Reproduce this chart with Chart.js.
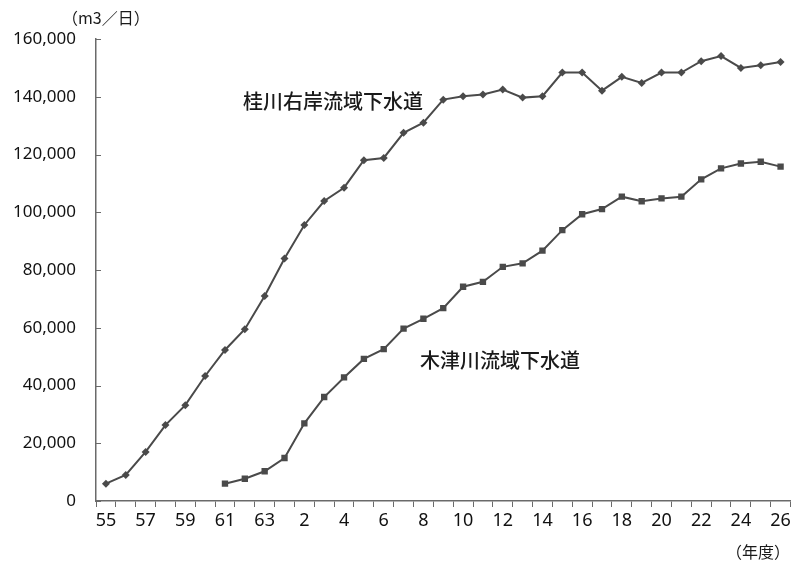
<!DOCTYPE html>
<html>
<head>
<meta charset="utf-8">
<script src="https://cdn.jsdelivr.net/npm/chart.js@4"></script>
<style>
  html, body { margin: 0; padding: 0; background: #ffffff; }
  #wrap { position: relative; width: 795px; height: 563px; }
  canvas { display: block; }
</style>
</head>
<body>
<div id="wrap"><canvas id="c" width="795" height="563"></canvas></div>
<script>
// Fiscal years: Showa 55–63, Heisei 元(1)–26
const categories = ['55','56','57','58','59','60','61','62','63','元',
  '2','3','4','5','6','7','8','9','10','11','12','13','14','15','16','17','18',
  '19','20','21','22','23','24','25','26'];

// 桂川右岸流域下水道 (m3/日)
const katsuraValues = [6000, 9000, 17000, 26300, 33200, 43300, 52300, 59500, 71000, 84000,
  95600, 103900, 108500, 118000, 118800, 127500, 131000, 139000, 140200, 140800, 142500,
  139700, 140200, 148400, 148400, 142100, 146900, 144800, 148400, 148400, 152300, 154100,
  150000, 150900, 152000];

// 木津川流域下水道 (m3/日)
const kizuValues = [null, null, null, null, null, null, 6000, 7700, 10300, 14900,
  26900, 36000, 42800, 49200, 52600, 59700, 63100, 66800, 74200, 75900, 81100,
  82300, 86700, 93800, 99300, 101100, 105400, 103800, 104800, 105400, 111400, 115200,
  116900, 117500, 115800];

const yTicks = [0, 20000, 40000, 60000, 80000, 100000, 120000, 140000, 160000];

const seriesLabels = [
  { text: '桂川右岸流域下水道', x: 243, y: 101 },
  { text: '木津川流域下水道', x: 420, y: 360 }
];
const unitY = '（m3／日）';
const unitX = '（年度）';

const lineColor = '#4a4a4a';
const axisColor = '#6a6a6a';
const numFont = "'Noto Sans', 'Open Sans', sans-serif";
const jpFont = "'Noto Sans CJK JP', sans-serif";

const textPlugin = {
  id: 'texts',
  afterDraw(chart) {
    const ctx = chart.ctx;
    ctx.save();
    // inside tick marks on the value axis
    const ys = chart.scales.y;
    ctx.strokeStyle = axisColor;
    ctx.lineWidth = 1;
    yTicks.forEach(v => {
      const py = Math.round(ys.getPixelForValue(v)) + 0.5;
      ctx.beginPath();
      ctx.moveTo(ys.right, py);
      ctx.lineTo(ys.right + 5, py);
      ctx.stroke();
    });
    ctx.fillStyle = '#1a1a1a';
    ctx.textBaseline = 'middle';
    ctx.textAlign = 'left';
    ctx.font = `500 20px ${jpFont}`;
    seriesLabels.forEach(l => ctx.fillText(l.text, l.x, l.y));
    ctx.font = `16px ${jpFont}`;
    ctx.fillText(unitY, 62, 18);
    ctx.textAlign = 'right';
    ctx.fillText(unitX, 790, 552);
    ctx.restore();
  }
};

new Chart(document.getElementById('c'), {
  type: 'line',
  data: {
    labels: categories,
    datasets: [
      {
        label: '桂川右岸流域下水道',
        data: katsuraValues,
        borderColor: lineColor,
        backgroundColor: lineColor,
        borderWidth: 2,
        pointStyle: 'rectRot',
        pointRadius: 4,
        pointBorderWidth: 0,
        tension: 0
      },
      {
        label: '木津川流域下水道',
        data: kizuValues,
        borderColor: lineColor,
        backgroundColor: lineColor,
        borderWidth: 2,
        pointStyle: 'rect',
        pointRadius: 4.5,
        pointBorderWidth: 0,
        tension: 0,
        spanGaps: false
      }
    ]
  },
  options: {
    responsive: false,
    animation: false,
    devicePixelRatio: 1,
    layout: { padding: { top: 39, right: 3, bottom: 0, left: 0 } },
    plugins: {
      legend: { display: false },
      tooltip: { enabled: false }
    },
    scales: {
      x: {
        type: 'category',
        offset: true,
        grid: {
          offset: true,
          drawOnChartArea: false,
          drawTicks: true,
          tickLength: 6,
          color: axisColor,
          lineWidth: 1
        },
        border: { display: true, color: axisColor, width: 1.5 },
        ticks: {
          autoSkip: false,
          maxRotation: 0,
          minRotation: 0,
          padding: 3,
          color: '#111',
          font: { family: numFont, size: 18 },
          callback: (v, i) => (i % 2 === 0 ? categories[i] : '')
        },
        afterFit(scale) { scale.height = 62; }
      },
      y: {
        min: 0,
        max: 160000,
        afterBuildTicks(scale) { scale.ticks = yTicks.map(v => ({ value: v })); },
        grid: {
          drawOnChartArea: false,
          drawTicks: false,
          color: axisColor
        },
        border: { display: true, color: axisColor, width: 1.5 },
        ticks: {
          padding: 20,
          color: '#111',
          font: { family: numFont, size: 17 },
          callback: v => v.toLocaleString('en-US')
        },
        afterFit(scale) { scale.width = 96; }
      }
    }
  },
  plugins: [textPlugin]
});
</script>
</body>
</html>
